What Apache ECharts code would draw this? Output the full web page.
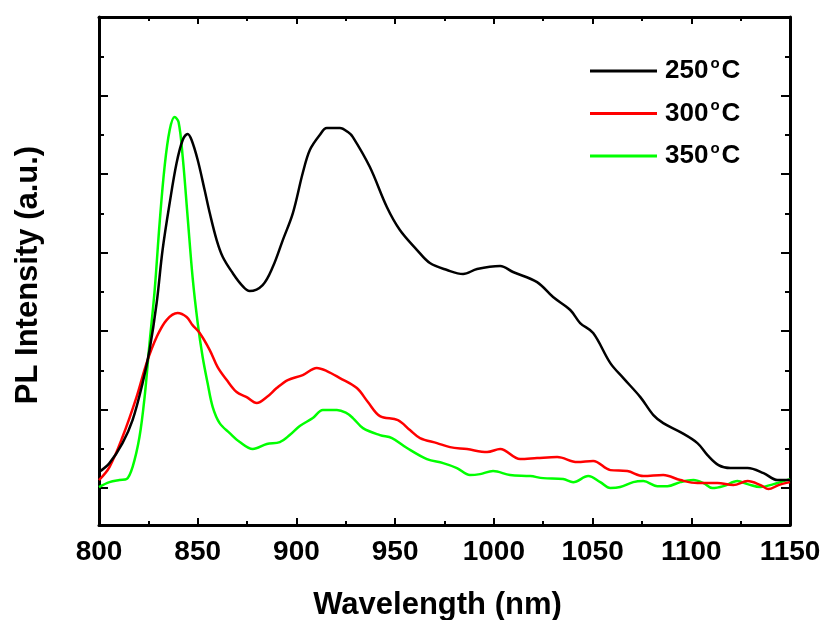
<!DOCTYPE html>
<html>
<head>
<meta charset="utf-8">
<script src="https://cdn.jsdelivr.net/npm/echarts@6/dist/echarts.min.js"></script>
<style>
  html, body { margin: 0; padding: 0; background: #fff; }
  #chart { width: 823px; height: 620px; }
</style>
</head>
<body>
<div id="chart"></div>
<script>
// PL spectra of samples annealed at 250, 300 and 350 °C (arbitrary units)
const wl250 = [800, 805.3, 811.9, 817.0, 822.1, 825.6, 829.2, 832.2, 835.8, 839.3, 842.4, 844.9, 846.9, 850.0, 853.5, 856.1, 859.6, 862.7, 867.7, 872.3, 876.3, 882.9, 888.0, 893.1, 898.2, 903.2, 906.8, 911.8, 915.4, 922.0, 926.1, 928.6, 937.2, 945.8, 952.4, 961.1, 967.6, 976.3, 984.4, 991.5, 1003.2, 1009.7, 1021.9, 1030.0, 1038.7, 1043.7, 1050.3, 1059.0, 1065.6, 1074.2, 1080.8, 1085.8, 1094.5, 1103.1, 1108.2, 1113.8, 1119.8, 1128.5, 1136.6, 1143.7, 1150];
const pl250 = [0.204, 0.318, 0.573, 0.866, 1.338, 1.758, 2.357, 3.032, 3.631, 4.140, 4.433, 4.510, 4.433, 4.178, 3.796, 3.503, 3.159, 2.943, 2.739, 2.586, 2.510, 2.586, 2.815, 3.159, 3.503, 4.013, 4.306, 4.497, 4.586, 4.586, 4.535, 4.471, 4.089, 3.580, 3.287, 3.032, 2.866, 2.777, 2.726, 2.790, 2.828, 2.752, 2.624, 2.433, 2.268, 2.102, 1.975, 1.592, 1.401, 1.159, 0.930, 0.828, 0.713, 0.573, 0.420, 0.293, 0.255, 0.255, 0.191, 0.102, 0.102];

const wl300 = [800, 805.3, 811.9, 819.0, 824.1, 829.2, 834.2, 839.8, 844.4, 847.4, 851.0, 856.1, 860.1, 864.7, 869.7, 874.8, 879.9, 885.0, 890.0, 895.6, 903.2, 910.3, 915.4, 922.0, 930.6, 936.2, 942.3, 951.4, 957.5, 962.6, 971.2, 977.8, 986.4, 996.6, 1003.2, 1013.3, 1021.9, 1032.1, 1042.2, 1050.3, 1059.0, 1067.6, 1075.7, 1085.8, 1094.5, 1103.1, 1113.2, 1121.3, 1128.5, 1135.1, 1139.1, 1144.2, 1150];
const pl300 = [0.102, 0.268, 0.650, 1.159, 1.592, 1.924, 2.140, 2.229, 2.178, 2.076, 1.975, 1.758, 1.541, 1.376, 1.223, 1.159, 1.083, 1.159, 1.274, 1.376, 1.439, 1.529, 1.490, 1.401, 1.274, 1.096, 0.917, 0.866, 0.739, 0.637, 0.573, 0.522, 0.497, 0.459, 0.497, 0.369, 0.382, 0.395, 0.331, 0.344, 0.229, 0.217, 0.153, 0.166, 0.102, 0.064, 0.064, 0.038, 0.089, 0.038, -0.013, 0.038, 0.076];

const wl350 = [800, 805.3, 810.4, 814.0, 817.0, 820.5, 823.1, 825.6, 828.2, 830.7, 833.2, 835.8, 838.3, 840.3, 842.4, 844.9, 847.4, 850.0, 852.5, 855.0, 857.6, 861.1, 866.2, 871.3, 877.9, 885.0, 891.6, 896.6, 901.7, 908.3, 913.4, 920.5, 925.0, 928.6, 933.7, 942.3, 948.4, 956.0, 966.1, 974.3, 981.3, 987.9, 993.0, 999.6, 1008.2, 1018.4, 1025.0, 1035.1, 1040.2, 1047.8, 1053.9, 1059.0, 1064.0, 1070.6, 1075.7, 1082.8, 1087.9, 1094.5, 1101.1, 1106.2, 1110.7, 1116.3, 1123.4, 1128.5, 1135.1, 1141.7, 1150];
const pl350 = [0.013, 0.076, 0.102, 0.115, 0.268, 0.650, 1.159, 1.847, 2.522, 3.376, 4.089, 4.561, 4.726, 4.662, 4.217, 3.452, 2.688, 2.102, 1.669, 1.338, 1.032, 0.828, 0.701, 0.586, 0.497, 0.561, 0.586, 0.675, 0.790, 0.892, 0.994, 0.994, 0.960, 0.892, 0.764, 0.675, 0.637, 0.510, 0.369, 0.318, 0.255, 0.166, 0.178, 0.217, 0.166, 0.153, 0.127, 0.115, 0.076, 0.153, 0.076, 0.000, 0.013, 0.076, 0.089, 0.025, 0.025, 0.076, 0.102, 0.064, 0.000, 0.025, 0.089, 0.051, 0.013, 0.051, 0.115];

const seriesNames = ['250', '300', '350'];
const seriesColors = ['#000000', '#ff0000', '#00ff00'];

const xTicks = { min: 800, max: 1150, step: 50 };
const yMajorTicks = [0, 1, 2, 3, 4, 5, 6];
const yMinorTicks = [0.5, 1.5, 2.5, 3.5, 4.5, 5.5];
const yRange = { min: -0.47, max: 6 };

const FONT = "'Liberation Sans', Arial, Helvetica, sans-serif";

function pairs(xs, ys) {
  return xs.map((x, i) => [x, ys[i]]);
}

const chart = echarts.init(document.getElementById('chart'), null, { renderer: 'canvas' });

const frameLine = { show: true, onZero: false, lineStyle: { color: '#000', width: 3 } };

function yAxisDef(position, ticks, len, showLine) {
  return {
    type: 'value',
    position: position,
    min: yRange.min,
    max: yRange.max,
    axisLine: showLine ? frameLine : { show: false },
    axisTick: { show: true, inside: true, length: len, customValues: ticks, lineStyle: { color: '#000', width: 2 } },
    axisLabel: { show: false },
    splitLine: { show: false }
  };
}

const option = {
  backgroundColor: '#ffffff',
  animation: false,
  grid: { left: 99, right: 33, top: 17, bottom: 95, containLabel: false, outerBoundsMode: 'none' },
  legend: {
    show: true,
    orient: 'vertical',
    left: 585,
    top: 51,
    itemWidth: 67,
    itemHeight: 3,
    itemGap: 13.5,
    icon: 'rect',
    data: seriesNames.map(n => n),
    formatter: function (name) {
      return '{a|' + name + '}{b|o}{a|C}';
    },
    textStyle: {
      color: '#000',
      padding: [0, 0, 0, 3],
      rich: {
        a: { fontFamily: FONT, fontWeight: 'bold', fontSize: 26, lineHeight: 30, color: '#000' },
        b: { fontFamily: FONT, fontWeight: 'bold', fontSize: 15, lineHeight: 30, verticalAlign: 'top', color: '#000', padding: [0, 2, 14, 2] }
      }
    }
  },
  xAxis: [
    {
      type: 'value',
      position: 'bottom',
      min: xTicks.min,
      max: xTicks.max,
      interval: xTicks.step,
      axisLine: frameLine,
      axisTick: { show: true, inside: true, length: 7, lineStyle: { color: '#000', width: 2 } },
      minorTick: { show: true, splitNumber: 2, length: 4, lineStyle: { color: '#000', width: 2 } },
      axisLabel: { show: true, margin: 13, color: '#000', fontFamily: FONT, fontWeight: 'bold', fontSize: 28, formatter: v => String(v) },
      splitLine: { show: false },
      name: 'Wavelength (nm)',
      nameLocation: 'middle',
      nameGap: 65,
      nameTextStyle: { color: '#000', fontFamily: FONT, fontWeight: 'bold', fontSize: 31, padding: [0, 14, 0, 0] }
    },
    {
      type: 'value',
      position: 'top',
      min: xTicks.min,
      max: xTicks.max,
      interval: xTicks.step,
      axisLine: frameLine,
      axisTick: { show: true, inside: true, length: 7, lineStyle: { color: '#000', width: 2 } },
      minorTick: { show: true, splitNumber: 2, length: 4, lineStyle: { color: '#000', width: 2 } },
      axisLabel: { show: false },
      splitLine: { show: false }
    }
  ],
  yAxis: [
    Object.assign(yAxisDef('left', yMajorTicks, 9, true), {
      name: 'PL Intensity (a.u.)',
      nameLocation: 'middle',
      nameGap: 55,
      nameRotate: 90,
      nameTextStyle: { color: '#000', fontFamily: FONT, fontWeight: 'bold', fontSize: 31, padding: [0, 8, 0, 0] }
    }),
    yAxisDef('left', yMinorTicks, 5, false),
    yAxisDef('right', yMajorTicks, 9, true),
    yAxisDef('right', yMinorTicks, 5, false)
  ],
  series: [
    { name: seriesNames[0], data: pairs(wl250, pl250) },
    { name: seriesNames[1], data: pairs(wl300, pl300) },
    { name: seriesNames[2], data: pairs(wl350, pl350) }
  ].map((s, i) => ({
    type: 'line',
    name: s.name,
    data: s.data,
    xAxisIndex: 0,
    yAxisIndex: 0,
    showSymbol: false,
    smooth: 0.35,
    color: seriesColors[i],
    lineStyle: { color: seriesColors[i], width: 2.5 },
    emphasis: { disabled: true },
    z: 3 - i
  }))
};

chart.setOption(option);
</script>
</body>
</html>
